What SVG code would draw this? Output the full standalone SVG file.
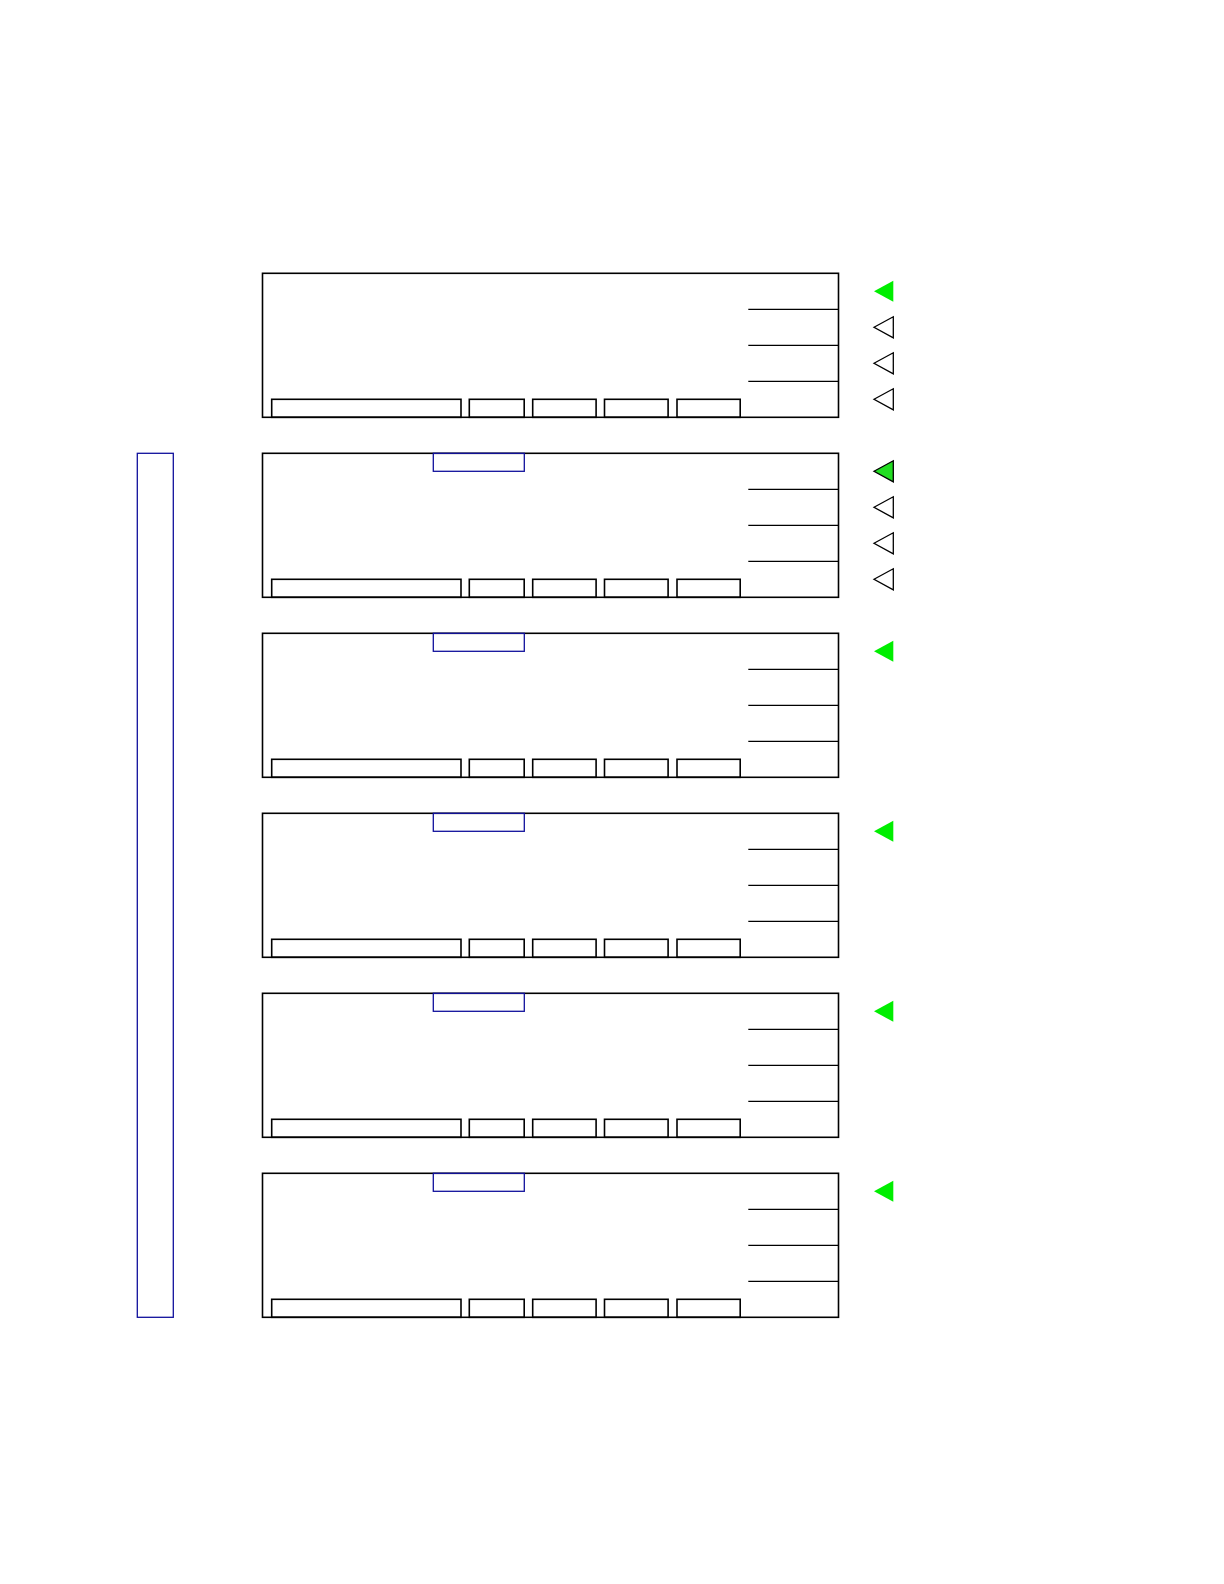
<svg xmlns="http://www.w3.org/2000/svg" width="1224" height="1584" viewBox="0 0 1224 1584">
<style>
.frame{fill:none;stroke:#000;stroke-width:1.6}
.div{stroke:#000;stroke-width:1.3}
.btn{fill:none;stroke:#000;stroke-width:1.6}
.tab{fill:none;stroke:#10109c;stroke-width:1.3}
.side{fill:none;stroke:#10109c;stroke-width:1.3}
.on{fill:#00ee00;stroke:none}
.onk{fill:#22dd22;stroke:#000;stroke-width:1.3}
.off{fill:none;stroke:#000;stroke-width:1.3}
</style>
<defs>
<g id="panel">
<rect class="frame" x="262.5" y="0" width="576" height="144"/>
<line class="div" x1="748.3" y1="36" x2="838.5" y2="36"/>
<line class="div" x1="748.3" y1="72" x2="838.5" y2="72"/>
<line class="div" x1="748.3" y1="108" x2="838.5" y2="108"/>
<rect class="btn" x="271.7" y="126" width="189.3" height="18"/>
<rect class="btn" x="469.3" y="126" width="54.9" height="18"/>
<rect class="btn" x="532.7" y="126" width="63.4" height="18"/>
<rect class="btn" x="604.5" y="126" width="63.6" height="18"/>
<rect class="btn" x="677" y="126" width="63.2" height="18"/>
</g>
<polygon id="tri" points="874,0 893.3,-10.5 893.3,10.5"/>
</defs>
<g id="sidebar"><rect class="side" x="137.3" y="453.3" width="36" height="864"/></g>
<g id="panel1" transform="translate(0,273.3)">
<use href="#panel"/>
<use href="#tri" class="on" y="18"/>
<use href="#tri" class="off" y="54"/>
<use href="#tri" class="off" y="90"/>
<use href="#tri" class="off" y="126"/>
</g>
<g id="panel2" transform="translate(0,453.3)">
<use href="#panel"/>
<rect class="tab" x="433.3" y="0" width="91" height="18"/>
<use href="#tri" class="onk" y="18"/>
<use href="#tri" class="off" y="54"/>
<use href="#tri" class="off" y="90"/>
<use href="#tri" class="off" y="126"/>
</g>
<g id="panel3" transform="translate(0,633.3)">
<use href="#panel"/>
<rect class="tab" x="433.3" y="0" width="91" height="18"/>
<use href="#tri" class="on" y="18"/>
</g>
<g id="panel4" transform="translate(0,813.3)">
<use href="#panel"/>
<rect class="tab" x="433.3" y="0" width="91" height="18"/>
<use href="#tri" class="on" y="18"/>
</g>
<g id="panel5" transform="translate(0,993.3)">
<use href="#panel"/>
<rect class="tab" x="433.3" y="0" width="91" height="18"/>
<use href="#tri" class="on" y="18"/>
</g>
<g id="panel6" transform="translate(0,1173.3)">
<use href="#panel"/>
<rect class="tab" x="433.3" y="0" width="91" height="18"/>
<use href="#tri" class="on" y="18"/>
</g>
<g id="connectors"></g>
</svg>
